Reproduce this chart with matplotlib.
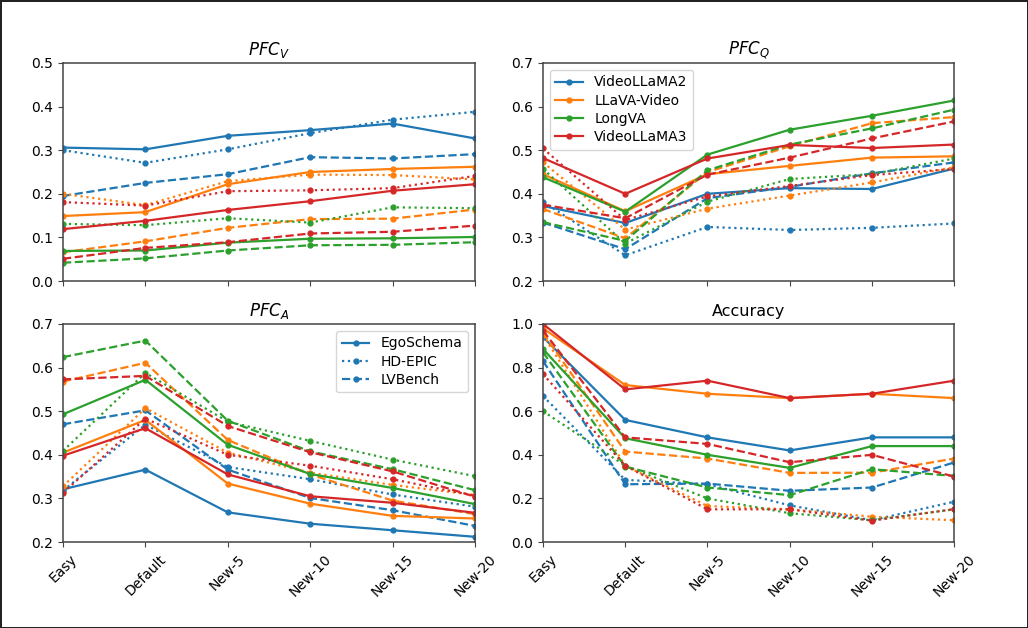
import matplotlib
matplotlib.use("Agg")
import matplotlib.pyplot as plt
import numpy as np

categories = ["Easy", "Default", "New-5", "New-10", "New-15", "New-20"]
models = ["VideoLLaMA2", "LLaVA-Video", "LongVA", "VideoLLaMA3"]
datasets = ["EgoSchema", "HD-EPIC", "LVBench"]

# ---- PFC_V ----
pfcv_vl2_ego = [0.306, 0.302, 0.333, 0.346, 0.361, 0.327]
pfcv_vl2_hd = [0.300, 0.271, 0.302, 0.339, 0.370, 0.388]
pfcv_vl2_lvb = [0.195, 0.225, 0.245, 0.284, 0.281, 0.291]
pfcv_llava_ego = [0.149, 0.158, 0.222, 0.250, 0.257, 0.262]
pfcv_llava_hd = [0.200, 0.174, 0.229, 0.244, 0.243, 0.233]
pfcv_llava_lvb = [0.066, 0.091, 0.122, 0.142, 0.143, 0.164]
pfcv_longva_ego = [0.069, 0.070, 0.088, 0.097, 0.098, 0.101]
pfcv_longva_hd = [0.131, 0.128, 0.144, 0.134, 0.169, 0.167]
pfcv_longva_lvb = [0.042, 0.052, 0.070, 0.082, 0.083, 0.089]
pfcv_vl3_ego = [0.119, 0.138, 0.163, 0.183, 0.207, 0.222]
pfcv_vl3_hd = [0.181, 0.173, 0.206, 0.208, 0.213, 0.241]
pfcv_vl3_lvb = [0.051, 0.076, 0.089, 0.109, 0.113, 0.127]

# ---- PFC_Q ----
pfcq_vl2_ego = [0.372, 0.333, 0.400, 0.413, 0.411, 0.458]
pfcq_vl2_hd = [0.382, 0.259, 0.324, 0.317, 0.322, 0.332]
pfcq_vl2_lvb = [0.334, 0.273, 0.390, 0.416, 0.447, 0.472]
pfcq_llava_ego = [0.445, 0.360, 0.445, 0.464, 0.483, 0.486]
pfcq_llava_hd = [0.472, 0.318, 0.366, 0.396, 0.426, 0.461]
pfcq_llava_lvb = [0.365, 0.298, 0.450, 0.509, 0.562, 0.576]
pfcq_longva_ego = [0.438, 0.359, 0.490, 0.547, 0.579, 0.614]
pfcq_longva_hd = [0.457, 0.286, 0.382, 0.434, 0.445, 0.481]
pfcq_longva_lvb = [0.335, 0.292, 0.454, 0.513, 0.550, 0.593]
pfcq_vl3_ego = [0.482, 0.400, 0.481, 0.512, 0.505, 0.513]
pfcq_vl3_hd = [0.504, 0.340, 0.394, 0.418, 0.443, 0.457]
pfcq_vl3_lvb = [0.375, 0.344, 0.444, 0.483, 0.527, 0.566]

# ---- PFC_A ----
pfca_vl2_ego = [0.321, 0.366, 0.268, 0.242, 0.227, 0.212]
pfca_vl2_hd = [0.318, 0.469, 0.372, 0.344, 0.309, 0.281]
pfca_vl2_lvb = [0.470, 0.502, 0.366, 0.301, 0.273, 0.237]
pfca_llava_ego = [0.405, 0.480, 0.334, 0.288, 0.260, 0.254]
pfca_llava_hd = [0.328, 0.507, 0.405, 0.359, 0.331, 0.308]
pfca_llava_lvb = [0.568, 0.611, 0.434, 0.355, 0.295, 0.264]
pfca_longva_ego = [0.493, 0.572, 0.423, 0.356, 0.324, 0.287]
pfca_longva_hd = [0.409, 0.588, 0.476, 0.432, 0.389, 0.351]
pfca_longva_lvb = [0.624, 0.662, 0.478, 0.408, 0.367, 0.319]
pfca_vl3_ego = [0.398, 0.461, 0.355, 0.305, 0.290, 0.267]
pfca_vl3_hd = [0.313, 0.483, 0.400, 0.375, 0.344, 0.306]
pfca_vl3_lvb = [0.573, 0.581, 0.466, 0.406, 0.362, 0.304]

# ---- Accuracy ----
acc_vl2_ego = [0.94, 0.56, 0.48, 0.42, 0.48, 0.48]
acc_vl2_hd = [0.67, 0.285, 0.265, 0.168, 0.10, 0.185]
acc_vl2_lvb = [0.83, 0.265, 0.268, 0.235, 0.25, 0.365]
acc_llava_ego = [0.98, 0.72, 0.68, 0.66, 0.68, 0.66]
acc_llava_hd = [0.95, 0.35, 0.165, 0.15, 0.116, 0.10]
acc_llava_lvb = [0.96, 0.415, 0.383, 0.317, 0.318, 0.383]
acc_longva_ego = [0.885, 0.476, 0.40, 0.34, 0.44, 0.44]
acc_longva_hd = [0.60, 0.35, 0.20, 0.132, 0.10, 0.15]
acc_longva_lvb = [0.87, 0.346, 0.25, 0.215, 0.334, 0.303]
acc_vl3_ego = [1.00, 0.70, 0.74, 0.66, 0.68, 0.74]
acc_vl3_hd = [0.77, 0.35, 0.15, 0.15, 0.098, 0.151]
acc_vl3_lvb = [0.97, 0.48, 0.45, 0.366, 0.40, 0.30]

panels = [
    ("$PFC_V$", (0.0, 0.5), 0.1, [
        [pfcv_vl2_ego, pfcv_vl2_hd, pfcv_vl2_lvb],
        [pfcv_llava_ego, pfcv_llava_hd, pfcv_llava_lvb],
        [pfcv_longva_ego, pfcv_longva_hd, pfcv_longva_lvb],
        [pfcv_vl3_ego, pfcv_vl3_hd, pfcv_vl3_lvb]]),
    ("$PFC_Q$", (0.2, 0.7), 0.1, [
        [pfcq_vl2_ego, pfcq_vl2_hd, pfcq_vl2_lvb],
        [pfcq_llava_ego, pfcq_llava_hd, pfcq_llava_lvb],
        [pfcq_longva_ego, pfcq_longva_hd, pfcq_longva_lvb],
        [pfcq_vl3_ego, pfcq_vl3_hd, pfcq_vl3_lvb]]),
    ("$PFC_A$", (0.2, 0.7), 0.1, [
        [pfca_vl2_ego, pfca_vl2_hd, pfca_vl2_lvb],
        [pfca_llava_ego, pfca_llava_hd, pfca_llava_lvb],
        [pfca_longva_ego, pfca_longva_hd, pfca_longva_lvb],
        [pfca_vl3_ego, pfca_vl3_hd, pfca_vl3_lvb]]),
    ("Accuracy", (0.0, 1.0), 0.2, [
        [acc_vl2_ego, acc_vl2_hd, acc_vl2_lvb],
        [acc_llava_ego, acc_llava_hd, acc_llava_lvb],
        [acc_longva_ego, acc_longva_hd, acc_longva_lvb],
        [acc_vl3_ego, acc_vl3_hd, acc_vl3_lvb]]),
]

colors = ["#1f77b4", "#ff7f0e", "#2ca02c", "#d62728"]
styles = ["-", ":", "--"]

fig = plt.figure(figsize=(10.28, 6.28), dpi=100, linewidth=2.0, edgecolor="#222222")
positions = [
    [0.0613, 0.5525, 0.4007, 0.3472],
    [0.5282, 0.5525, 0.4000, 0.3472],
    [0.0613, 0.1369, 0.4007, 0.3472],
    [0.5282, 0.1369, 0.4000, 0.3472],
]
x = list(range(len(categories)))
for idx, (title, ylim, step, data) in enumerate(panels):
    ax = fig.add_axes(positions[idx])
    for mi, model_series in enumerate(data):
        for di, series in enumerate(model_series):
            ax.plot(x, series, color=colors[mi], linestyle=styles[di],
                    marker=".", markersize=7, linewidth=1.6)
    ax.set_xlim(0, len(categories) - 1)
    ax.set_ylim(*ylim)
    ax.set_yticks(np.round(np.arange(ylim[0], ylim[1] + 1e-9, step), 2))
    ax.set_xticks(x)
    if idx >= 2:
        ax.set_xticklabels(categories, rotation=45, fontsize=10)
    else:
        ax.set_xticklabels([])
    ax.tick_params(labelsize=10, color="#444444")
    for sp in ax.spines.values():
        sp.set_color("#444444")
        sp.set_linewidth(1.1)
    ax.set_title(title, fontsize=12 if idx < 3 else 11.5)
    if idx == 1:
        handles = [plt.Line2D([], [], color=colors[i], linestyle="-", marker=".",
                              markersize=7, linewidth=1.6) for i in range(4)]
        ax.legend(handles, models, loc="upper left", fontsize=10, labelspacing=0.3)
    if idx == 2:
        handles = [plt.Line2D([], [], color=colors[0], linestyle=styles[i], marker=".",
                              markersize=7, linewidth=1.6) for i in range(3)]
        ax.legend(handles, datasets, loc="upper right", fontsize=10, labelspacing=0.3)

fig.savefig("out.png", dpi=100)
